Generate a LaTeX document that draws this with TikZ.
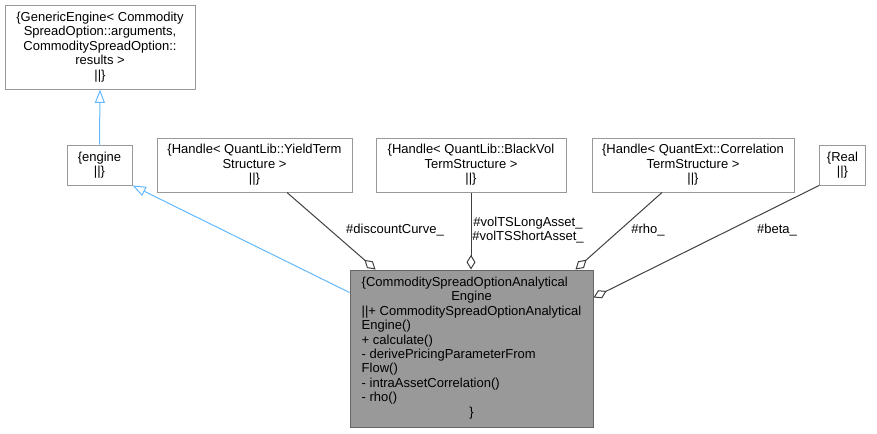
\documentclass[tikz,border=0pt]{standalone}
\usepackage{fontspec}
\setmainfont{Liberation Sans}
\usepackage{tikz}
\usetikzlibrary{positioning,arrows.meta,calc}
\usepackage{xcolor}
\definecolor{boxc}{RGB}{153,153,153}
\definecolor{mainc}{RGB}{102,102,102}
\definecolor{mainfill}{RGB}{153,153,153}
\definecolor{inhc}{RGB}{99,184,255}
\definecolor{aggc}{RGB}{64,64,64}

\begin{document}
\begin{tikzpicture}[
  x=0.75pt, y=-0.75pt,
  font=\fontsize{9.75}{10.8}\selectfont,
  cls/.style 2 args={
    rectangle, draw=boxc, fill=white, line width=0.75pt,
    align=center, inner sep=0pt,
    minimum width=#1*0.75pt, minimum height=#2*0.75pt
  },
  inh/.style={-{Triangle[open, length=10pt, width=7.5pt]}, draw=inhc, line width=0.75pt},
  agg/.style={-{Diamond[open, length=11pt, width=6.75pt]}, draw=aggc, line width=0.75pt},
  lbl/.style={inner sep=0pt, align=center},
]
\useasboundingbox (0,0) rectangle (877,433);

% ---- top: base classes ----
\node[cls={190}{84}] (generic) at (100,47)
  {\{GenericEngine< Commodity\\SpreadOption::arguments,\\CommoditySpreadOption::\\results >\\||\}};

\node[cls={65}{40}] (engine) at (99.5,165) {\{engine\\||\}};

% ---- row of member types ----
\node[cls={195}{54}] (yield) at (254.5,165)
  {\{Handle< QuantLib::YieldTerm\\Structure >\\||\}};
\node[cls={190}{54}] (blackvol) at (471,165)
  {\{Handle< QuantLib::BlackVol\\TermStructure >\\||\}};
\node[cls={202}{54}] (corr) at (693,165)
  {\{Handle< QuantExt::Correlation\\TermStructure >\\||\}};
\node[cls={46}{40}] (real) at (842.5,165) {\{Real\\||\}};

% ---- the engine itself ----
\node[cls={243}{157}, draw=mainc, fill=mainfill] (main) at (471.5,348.5)
  {\begin{tabular}{@{}l@{}}
   \{CommoditySpreadOptionAnalytical\\
   \multicolumn{1}{c}{Engine}\\
   ||+ CommoditySpreadOptionAnalytical\\
   Engine()\\
   + calculate()\\
   - derivePricingParameterFrom\\
   Flow()\\
   - intraAssetCorrelation()\\
   - rho()\\
   \multicolumn{1}{c}{\}}
   \end{tabular}};

% ---- inheritance ----
\draw[inh] (engine.north) -- (generic.south);
\draw[inh] ($(main.north west)+(0,23)$) -- (engine.south east);

% ---- members ----
\draw[agg] ($(yield.south)+(32.5,0)$) -- ($(main.north west)+(26,0)$);
\draw[agg] (blackvol.south) -- (blackvol.south |- main.north);
\draw[agg] ($(corr.south)+(-31,0)$) -- ($(main.north east)+(-18,0)$);
\draw[agg] (real.south west) -- ($(main.north east)+(0,28)$);

% ---- member names ----
\node[lbl] (discLbl) at (395,230) {\#discountCurve\_};
\node[lbl] (volLbl) at (528,230) {\#volTSLongAsset\_\\\#volTSShortAsset\_};
\node[lbl] (rhoLbl) at (648,230) {\#rho\_};
\node[lbl] (betaLbl) at (777,230) {\#beta\_};

\end{tikzpicture}
\end{document}
